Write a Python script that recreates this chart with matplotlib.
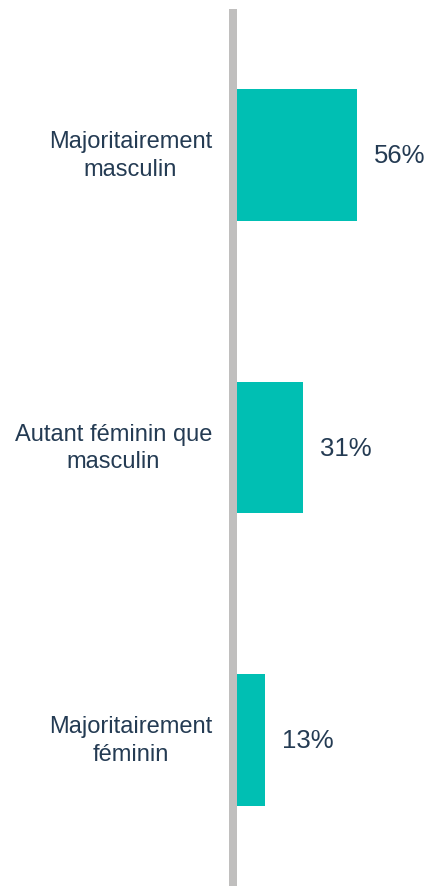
import matplotlib.pyplot as plt

categories = ["Majoritairement\nmasculin", "Autant féminin que\nmasculin", "Majoritairement\nféminin"]
shares = [56, 31, 13]

BAR_COLOR = "#00bfb3"
AXIS_COLOR = "#c0bfbe"
TEXT_COLOR = "#243b53"

plt.rcParams["font.family"] = ["Liberation Sans", "DejaVu Sans"]

fig = plt.figure(figsize=(4.29, 8.87), dpi=100)
ax = fig.add_axes([237 / 429, 0, 192 / 429, 877 / 887])

pos = list(range(len(categories)))
ax.barh(pos, shares, height=0.45, color=BAR_COLOR)
ax.set_ylim(2.5, -0.5)
ax.set_xlim(0, 89.6)

# value labels to the right of each bar
for y, v in zip(pos, shares):
    ax.annotate(f"{v}%", (v, y), xytext=(12, 0), textcoords="offset points",
                va="center", ha="left", fontsize=18.5, color=TEXT_COLOR)

# category labels, right-aligned left of the axis line
for y, name in zip(pos, categories):
    ax.annotate(name, (0, y), xytext=(-18, 0), textcoords="offset points",
                va="center", ha="right", multialignment="center",
                fontsize=17, color=TEXT_COLOR, linespacing=1.35)

ax.set_yticks([])
ax.set_xticks([])

for side in ["top", "right", "bottom"]:
    ax.spines[side].set_visible(False)
ax.spines["left"].set_color(AXIS_COLOR)
ax.spines["left"].set_linewidth(5.76)
ax.spines["left"].set_capstyle("butt")
ax.spines["left"].set_position(("outward", 2.9))

fig.savefig("out.png", dpi=100)
